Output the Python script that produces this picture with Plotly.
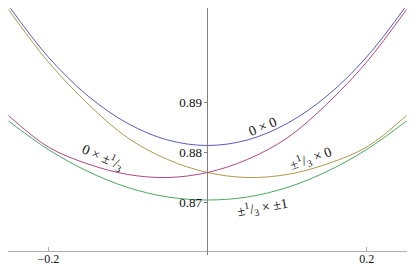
import plotly.graph_objects as go

# sample points
x = [-0.25, -0.2, -0.15, -0.1, -0.05, 0.0, 0.05, 0.1, 0.15, 0.2, 0.25]

blue_00 = [0.9093, 0.8990, 0.8912, 0.8857, 0.8824, 0.8813, 0.8824, 0.8857, 0.8912, 0.8990, 0.9093]
gold_third_0 = [0.9085, 0.8980, 0.8896, 0.8828, 0.8785, 0.8759, 0.8749, 0.8755, 0.8776, 0.8810, 0.8873]
magenta_0_third = [0.8873, 0.8810, 0.8776, 0.8755, 0.8749, 0.8759, 0.8785, 0.8828, 0.8896, 0.8980, 0.9085]
green_third_1 = [0.8862, 0.8805, 0.8761, 0.8729, 0.8710, 0.8704, 0.8710, 0.8729, 0.8761, 0.8805, 0.8862]

xtick_vals = [-0.2, 0.2]
xtick_text = ["−0.2", "0.2"]
ytick_vals = [0.87, 0.88, 0.89]
ytick_text = ["0.87", "0.88", "0.89"]

series = [
    (blue_00, "#5a5ab8"),
    (gold_third_0, "#ad9a4c"),
    (magenta_0_third, "#ad4a80"),
    (green_third_1, "#4aa862"),
]

fig = go.Figure()
for ys, col in series:
    fig.add_trace(go.Scatter(x=x, y=ys, mode="lines", line=dict(color=col, width=1, shape="spline"),
                             hoverinfo="skip"))

serif = "Liberation Serif, Times New Roman, serif"

# curve labels
labels = [
    ("0 × 0", 0.0697, 0.8852, -22),
    ("0 × ±<sup>1</sup>/<sub>3</sub>", -0.1313, 0.8790, 24),
    ("±<sup>1</sup>/<sub>3</sub> × 0", 0.130, 0.8788, -20),
    ("±<sup>1</sup>/<sub>3</sub> × ±1", 0.0697, 0.8690, -10),
]
for txt, lx, ly, ang in labels:
    fig.add_annotation(x=lx, y=ly, text=txt, showarrow=False, textangle=ang,
                       font=dict(family=serif, size=14, color="#111"))

# page body has an 8px margin, so the figure is shrunk by that much
xlo, xhi = -0.2506, 0.2607
ylo, yhi = 0.8594, 0.9088
fig.update_layout(
    width=407, height=257,
    margin=dict(l=0, r=0, t=0, b=10),
    plot_bgcolor="white", paper_bgcolor="white",
    showlegend=False,
    font=dict(family=serif, size=13, color="#111"),
    xaxis=dict(
        range=[xlo, xhi], anchor="free", position=(0.86026 - ylo) / (yhi - ylo),
        showline=True, linecolor="#b0b0b0", linewidth=1,
        ticks="inside", ticklen=4, tickcolor="#b0b0b0",
        tickvals=xtick_vals, ticktext=xtick_text,
        tickfont=dict(size=12), ticklabelstandoff=-3,
        showgrid=False, zeroline=False, automargin=False,
    ),
    yaxis=dict(
        range=[ylo, yhi], anchor="free", position=(0 - xlo) / (xhi - xlo),
        showline=True, linecolor="#808080", linewidth=1,
        ticks="outside", ticklen=3, tickcolor="#808080",
        tickvals=ytick_vals, ticktext=ytick_text,
        showgrid=False, zeroline=False, automargin=False,
    ),
)

fig.write_html("out.html")
